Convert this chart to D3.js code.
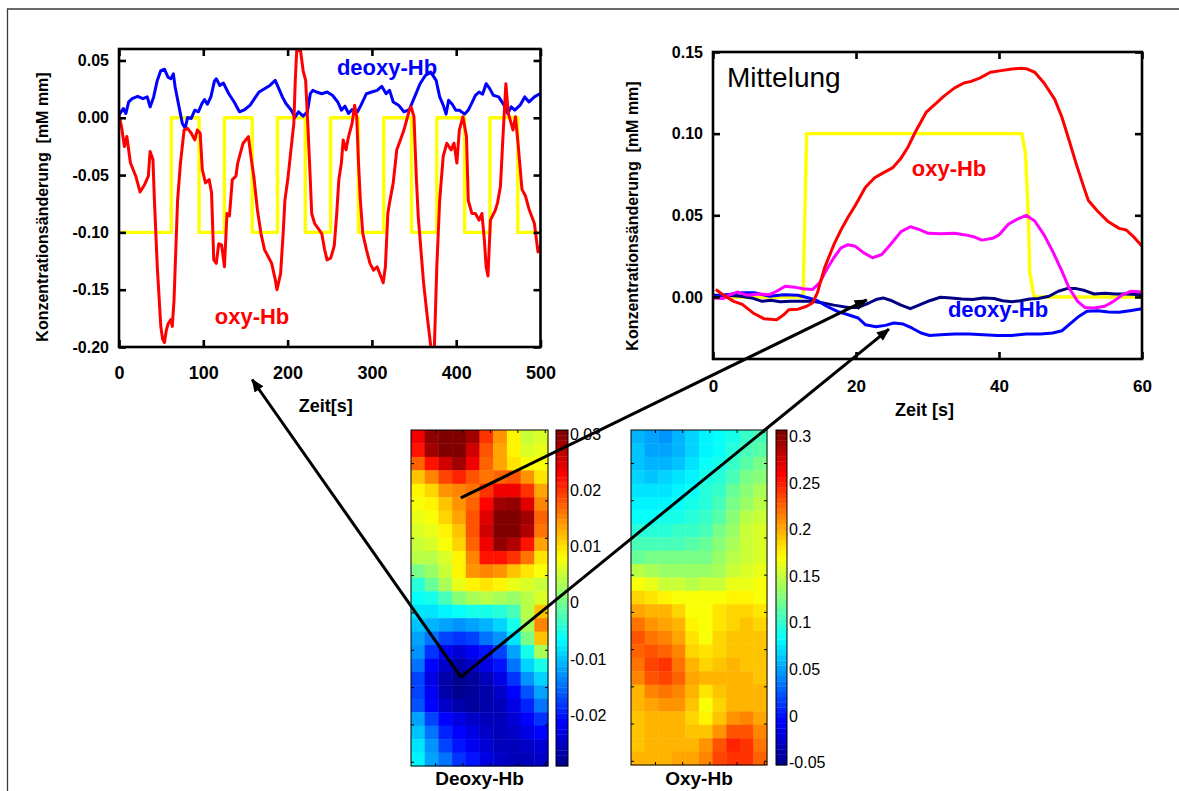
<!DOCTYPE html>
<html>
<head>
<meta charset="utf-8">
<script src="https://cdn.jsdelivr.net/npm/d3@7"></script>
<style>
  body { margin: 0; background: #fff; }
  text { font-family: "Liberation Sans", Arial, Helvetica, sans-serif; }
</style>
</head>
<body>
<svg id="fig" width="1179" height="791"></svg>
<script>
// ---------- Block design run (0-500 s), concentration change [mM mm] ----------
const stimulusA = [[0,-0.1],[62,-0.1],[62,0],[95,0],[95,-0.1],[125,-0.1],[125,0],[158,0],[158,-0.1],
  [188,-0.1],[188,0],[221,0],[221,-0.1],[251,-0.1],[251,0],[284,0],[284,-0.1],[314,-0.1],[314,0],
  [347,0],[347,-0.1],[377,-0.1],[377,0],[410,0],[410,-0.1],[440,-0.1],[440,0],[473,0],[473,-0.1],[500,-0.1]];

const oxyA = [[0,0.0023],[3,-0.0078],[6.4,-0.0251],[9.3,-0.0164],[13.6,-0.0395],[19.9,-0.051],[25,-0.0648],
  [30.5,-0.0582],[34.8,-0.051],[36.9,-0.0294],[40.3,-0.0366],[42,-0.072],[45.4,-0.13],[49.6,-0.182],[51.7,-0.193],
  [53.9,-0.196],[56,-0.186],[58.1,-0.18],[61.5,-0.176],[63.2,-0.182],[65.3,-0.159],[67.4,-0.115],[69.5,-0.072],
  [72.9,-0.0395],[77.2,-0.0107],[81.4,-0.0092],[85.7,-0.0135],[89.9,-0.0193],[92.9,-0.0107],[96.3,-0.0135],
  [98.8,-0.0452],[102.6,-0.0568],[106.9,-0.0539],[109.8,-0.0654],[112.4,-0.124],[115.4,-0.127],[118.3,-0.11],
  [121.7,-0.111],[125.1,-0.13],[128.1,-0.0835],[131,-0.0856],[134.4,-0.0539],[138.7,-0.051],[140.8,-0.0395],
  [147.2,-0.0222],[153.5,-0.0164],[156.5,-0.0337],[159.9,-0.051],[164.1,-0.0798],[168.4,-0.101],[172.6,-0.115],
  [181.1,-0.127],[185.3,-0.141],[187.4,-0.15],[191.7,-0.136],[194.7,-0.101],[196.8,-0.072],[200.2,-0.0539],
  [204.4,-0.0251],[207.4,-0.0049],[209.1,0.0326],[210.8,0.0585],[215.1,0.06],[218.4,0.0412],[221.4,0.0326],
  [224.3,-0.0107],[226.9,-0.0539],[228.6,-0.0835],[232,-0.0922],[236.2,-0.0965],[240.5,-0.101],[243.9,-0.115],
  [246.8,-0.124],[251.1,-0.1225],[255.3,-0.112],[258.3,-0.0835],[260.8,-0.0539],[263.8,-0.0395],[265.9,-0.0193],
  [269.3,-0.028],[272.3,-0.0164],[276.5,-0.0049],[279.5,0.011],[282,0.0009],[284.1,-0.0395],[286.3,-0.072],
  [289.2,-0.101],[293.5,-0.115],[297.7,-0.127],[302,-0.133],[306.2,-0.13],[310.4,-0.138],[313.4,-0.144],
  [316,-0.13],[318.9,-0.0835],[321,-0.074],[325.3,-0.0568],[329.5,-0.028],[333.8,-0.0193],[338,-0.0107],
  [344.4,0.0066],[346.5,0.0095],[349.9,0.0009],[352.8,-0.0539],[355,-0.0864],[361.3,-0.144],[365.6,-0.173],
  [369.8,-0.199],[374,-0.203],[377,-0.13],[380.4,-0.072],[384.6,-0.0337],[388.9,-0.0222],[394,-0.028],
  [397.4,-0.0222],[400.8,-0.0395],[403.7,-0.0107],[408,0.0009],[412.2,-0.0164],[414.3,-0.072],[418.6,-0.0835],
  [422.8,-0.0835],[427.1,-0.0893],[430.5,-0.0835],[433.4,-0.1066],[435.5,-0.13],[437.7,-0.138],[440.6,-0.0893],
  [446.2,-0.081],[449.1,-0.074],[452.5,-0.0597],[455.9,-0.0107],[458.9,0.0297],[461.8,0.0037],[465.2,-0.0049],
  [467.4,-0.0107],[470.3,0.0009],[473.7,-0.0251],[478,-0.0625],[482.2,-0.0683],[486.4,-0.0798],[492.8,-0.0922],
  [497,-0.117],[500,-0.112]];

const deoxyA = [[0,0.0023],[5.1,0.0081],[8.1,0.0037],[11.5,0.0138],[15.7,0.0167],[22.1,0.0187],[28.4,0.0167],
  [33.5,0.0182],[36.9,0.0095],[41.1,0.0182],[45.4,0.0326],[49.6,0.0412],[53.9,0.0424],[58.1,0.0354],[61.5,0.034],
  [64.5,0.0383],[66.6,0.0268],[70.8,0.011],[75.1,-0.0049],[78.5,-0.0092],[81.4,0.0003],[85.7,-0.0006],
  [89.9,0.0066],[94.1,0.0052],[98.4,0.0124],[101.4,0.0159],[104.8,0.0118],[109,0.0182],[113.2,0.032],
  [115.4,0.034],[119.6,0.0282],[123.8,0.0303],[130.2,0.021],[136.6,0.0138],[142.9,0.0052],[149.3,0.0072],
  [155.6,0.011],[160.7,0.0167],[166.2,0.0225],[172.6,0.0254],[179,0.0282],[185.3,0.0326],[189.6,0.0254],
  [193.8,0.0182],[198,0.0124],[204.4,0.0066],[208.7,0.0003],[212.9,0.0052],[218.4,0.0014],[223.5,0.0052],
  [226.9,0.021],[229.9,0.0239],[234.1,0.0225],[240.5,0.021],[246.8,0.0225],[253.2,0.0196],[259.5,0.0138],
  [263.8,0.0066],[268,0.0101],[272.3,0.0037],[276.5,0.0072],[282.9,0.0052],[287.1,0.011],[293.5,0.021],
  [299.8,0.0225],[306.2,0.0239],[311.7,0.0274],[316.8,0.021],[321,0.0239],[325.3,0.0138],[331.6,0.011],
  [338,0.0052],[344.4,0.0072],[350.7,0.0182],[357.1,0.0297],[363.4,0.0369],[369.8,0.0398],[376.2,0.0326],
  [380.4,0.0182],[384.6,0.011],[388,0.0032],[391,0.0153],[395.3,0.0118],[399.5,0.0066],[403.7,0.0066],
  [410.1,0.0032],[414.3,0.0066],[418.6,0.013],[422.8,0.0196],[427.1,0.0225],[431.3,0.0205],[435.5,0.0297],
  [439.8,0.0254],[444,0.0196],[450.4,0.0182],[456.7,0.011],[461,0.0037],[465.2,0.0095],[469.5,0.0066],
  [475.8,0.011],[481.3,0.0182],[486.4,0.0138],[492.8,0.0182],[499.2,0.021],[500,0.0205]];

const timeTicksA = [0, 100, 200, 300, 400, 500];
const timeLabelsA = ["0", "100", "200", "300", "400", "500"];
const concTicksA = [0.05, 0, -0.05, -0.1, -0.15, -0.2];
const concLabelsA = ["0.05", "0.00", "-0.05", "-0.10", "-0.15", "-0.20"];

// ---------- Block average (Mittelung, 0-60 s) ----------
const stimulusB = [[0,0],[12.6,0],[13.1,0.1],[43.2,0.1],[43.7,0.088],[44.1,0.05],[44.3,0.015],[44.9,0],[60,0]];

const oxyB = [[0.4,0.0045],[1.4,0.0014],[2.9,-0.0027],[4.1,-0.0045],[5.6,-0.0098],[7.1,-0.0133],[8.9,-0.0139],
  [9.9,-0.0109],[10.6,-0.0078],[11.9,-0.0075],[13.1,-0.0057],[13.9,-0.0037],[14.6,0.0025],[15.6,0.0178],
  [16.9,0.032],[17.9,0.041],[18.9,0.049],[19.9,0.056],[21.3,0.067],[22.6,0.073],[23.8,0.076],[25.1,0.079],
  [26.3,0.085],[27.3,0.092],[28.3,0.101],[29.8,0.113],[30.8,0.117],[32.3,0.123],[33.8,0.128],[35.1,0.131],
  [36.1,0.132],[37.3,0.134],[38.8,0.1376],[40.3,0.1386],[41.8,0.1396],[43,0.14],[43.8,0.1398],[45,0.1376],
  [46.3,0.131],[47.8,0.121],[48.8,0.11],[49.8,0.096],[50.8,0.0815],[51.8,0.068],[52.5,0.059],[53.8,0.0525],
  [55.3,0.046],[56.8,0.042],[57.8,0.041],[58.8,0.037],[60,0.031]];

const totalB = [[0,-0.0006],[1.4,-0.001],[2.4,0.0014],[3.4,0.003],[4.9,0.001],[6.4,0.0018],[7.9,0.0014],
  [8.9,0.0035],[10.1,0.0066],[11.4,0.006],[12.6,0.005],[13.9,0.0045],[14.9,0.0086],[15.9,0.0168],[16.9,0.024],
  [17.9,0.03],[18.9,0.032],[19.9,0.031],[21.1,0.027],[22.3,0.024],[23.6,0.026],[24.8,0.032],[26.3,0.04],
  [27.6,0.043],[28.8,0.0414],[30.1,0.039],[31.8,0.0387],[33.8,0.039],[35.3,0.038],[36.6,0.0367],[37.6,0.0348],
  [39.1,0.0359],[40,0.038],[41.3,0.0445],[42.5,0.0475],[43.8,0.05],[45,0.0465],[46.3,0.038],[47.5,0.028],
  [48.8,0.0158],[49.8,0.0055],[51,-0.0027],[52,-0.0064],[53.3,-0.0068],[54.8,-0.0057],[56,-0.0027],
  [57.3,0.0014],[58.5,0.0035],[60,0.003]];

const deoxyActiveB = [[0,0.001],[1.9,0.001],[3.9,0.0004],[5.4,-0.0006],[6.9,-0.0027],[8.1,-0.002],[9.4,-0.003],
  [10.9,-0.0027],[12.4,-0.0027],[13.9,-0.0027],[15.4,-0.0037],[16.9,-0.005],[18.9,-0.0064],[20.3,-0.0064],
  [21.8,-0.0037],[22.8,-0.0016],[23.8,-0.0006],[24.8,-0.002],[26.3,-0.005],[27.6,-0.0072],[28.8,-0.005],
  [30.3,-0.0023],[31.8,-0.0002],[33.3,-0.0006],[34.8,-0.0012],[36.3,-0.0016],[37.8,-0.0006],[39.3,-0.001],
  [40.5,-0.0023],[41.8,-0.003],[43,-0.0023],[44.3,-0.0012],[45.5,-0.001],[47,0.0004],[48.3,0.0035],
  [49.5,0.0051],[50.8,0.0051],[52,0.0039],[53.3,0.0018],[54.8,0.0023],[56.3,0.0018],[57.8,0.0018],[60,0.0014]];

const deoxyB = [[0,0.0004],[1.9,0.0014],[3.9,0.0025],[5.9,0.0025],[7.9,0.0004],[9.9,0.0014],[11.9,0.001],
  [13.4,-0.0006],[14.6,-0.0023],[15.9,-0.0057],[17.4,-0.0088],[18.9,-0.0109],[20.3,-0.0129],[21.3,-0.017],
  [22.8,-0.0182],[24.1,-0.0174],[25.3,-0.016],[26.6,-0.0166],[27.8,-0.019],[29.1,-0.0221],[30.3,-0.0236],
  [31.8,-0.0232],[33.8,-0.0227],[35.8,-0.0227],[37.8,-0.0232],[39.8,-0.0236],[41.8,-0.0236],[43.8,-0.0227],
  [45.8,-0.0227],[47.5,-0.0221],[48.8,-0.0207],[49.8,-0.017],[51,-0.0125],[52.3,-0.0088],[53.8,-0.0084],
  [55.3,-0.0092],[56.8,-0.0094],[58.3,-0.0084],[60,-0.0072]];

const timeTicksB = [0, 20, 40, 60];
const timeLabelsB = ["0", "20", "40", "60"];
const concTicksB = [0.15, 0.1, 0.05, 0];
const concLabelsB = ["0.15", "0.10", "0.05", "0.00"];

// ---------- Topographic maps, values in 10^-3 mM mm (rows top to bottom) ----------
const deoxyMap = [
  [24, 29, 30, 30, 28, 20, 14, 9, 5, 6],
  [22, 28, 30, 30, 26, 18, 13, 9, 6, 7],
  [17, 22, 26, 28, 24, 17, 13, 10, 8, 8],
  [12, 15, 19, 21, 18, 16, 17, 18, 14, 10],
  [9, 11, 14, 15, 16, 20, 24, 24, 20, 13],
  [8, 9, 12, 14, 17, 23, 28, 29, 25, 15],
  [7, 8, 11, 13, 18, 25, 30, 30, 28, 17],
  [6, 7, 9, 12, 18, 26, 30, 30, 27, 16],
  [5, 6, 8, 11, 17, 24, 29, 27, 22, 13],
  [4, 4, 6, 9, 15, 22, 22, 20, 16, 10],
  [0, 2, 5, 9, 14, 15, 14, 12, 10, 8],
  [-4, -1, 3, 7, 9, 10, 9, 7, 6, 5],
  [-6, -5, -2, 1, 3, 4, 3, 2, 4, 6],
  [-8, -8, -7, -6, -5, -5, -4, -2, 4, 12],
  [-10, -11, -12, -13, -12, -11, -9, -5, 3, 15],
  [-12, -15, -17, -18, -17, -15, -13, -8, 0, 12],
  [-13, -18, -22, -24, -22, -20, -17, -12, -5, 3],
  [-15, -21, -25, -27, -25, -23, -20, -15, -9, -5],
  [-17, -23, -27, -29, -28, -26, -23, -18, -13, -9],
  [-17, -22, -27, -29, -28, -27, -25, -21, -16, -12],
  [-16, -21, -25, -27, -28, -27, -26, -23, -19, -15],
  [-12, -17, -21, -23, -25, -26, -26, -24, -21, -18],
  [-10, -15, -19, -21, -23, -25, -26, -25, -23, -21],
  [-8, -13, -17, -20, -22, -24, -26, -26, -25, -24],
  [-7, -12, -15, -18, -20, -23, -25, -26, -26, -25]
];
const deoxyRange = [-29, 30.7];
const deoxyBarTicks = [30, 20, 10, 0, -10, -20];
const deoxyBarLabels = ["0.03", "0.02", "0.01", "0", "-0.01", "-0.02"];

const oxyMap = [
  [58, 52, 48, 55, 68, 78, 84, 92, 102, 110],
  [60, 54, 50, 58, 70, 80, 86, 95, 106, 115],
  [62, 58, 56, 64, 74, 84, 92, 102, 114, 124],
  [66, 64, 66, 72, 80, 90, 98, 110, 122, 132],
  [72, 72, 74, 78, 84, 94, 104, 118, 130, 140],
  [78, 78, 80, 84, 90, 98, 110, 125, 138, 148],
  [85, 86, 88, 92, 96, 104, 116, 132, 145, 152],
  [95, 96, 97, 100, 104, 110, 122, 138, 150, 156],
  [105, 106, 108, 110, 112, 118, 128, 142, 152, 158],
  [120, 122, 122, 122, 122, 126, 135, 146, 155, 160],
  [145, 142, 138, 135, 133, 135, 142, 152, 160, 165],
  [168, 162, 155, 150, 148, 150, 155, 162, 166, 168],
  [188, 182, 176, 170, 168, 168, 172, 176, 175, 172],
  [205, 200, 195, 188, 172, 170, 180, 185, 185, 182],
  [222, 210, 202, 196, 175, 168, 182, 188, 190, 188],
  [232, 222, 212, 205, 178, 170, 184, 190, 192, 190],
  [228, 232, 228, 212, 188, 178, 188, 192, 192, 190],
  [220, 236, 240, 222, 198, 188, 192, 195, 194, 192],
  [212, 232, 238, 225, 205, 195, 196, 198, 196, 194],
  [200, 215, 222, 215, 200, 180, 190, 198, 198, 196],
  [195, 205, 210, 208, 190, 172, 185, 198, 200, 198],
  [192, 198, 200, 200, 185, 175, 192, 210, 212, 205],
  [190, 195, 196, 196, 190, 190, 210, 232, 230, 215],
  [192, 196, 198, 198, 200, 210, 232, 248, 242, 222],
  [198, 200, 200, 202, 205, 215, 235, 245, 240, 225]
];
const oxyRange = [-52.5, 307];
const oxyBarTicks = [300, 250, 200, 150, 100, 50, 0, -50];
const oxyBarLabels = ["0.3", "0.25", "0.2", "0.15", "0.1", "0.05", "0", "-0.05"];

// ---------- drawing ----------
const svg = d3.select("#fig");
const defs = svg.append("defs");

// outer figure border (top and left edges)
svg.append("path").attr("d", "M7.5,791V9H1179").attr("fill", "none")
  .attr("stroke", "#3a3a3a").attr("stroke-width", 1.3);

const jet = d3.scaleLinear()
  .domain([0, 1/8, 3/8, 5/8, 7/8, 1])
  .range(["#00008f", "#0000ff", "#00ffff", "#ffff00", "#ff0000", "#800000"])
  .interpolate(d3.interpolateRgb);
const jetLevel = n => Math.max(0, Math.min(63, Math.floor(n * 64))) / 63;

function linePanel(o) {
  const g = svg.append("g");
  const [x0, x1] = o.x.range();
  const [yb, yt] = o.y.range();
  defs.append("clipPath").attr("id", o.id).append("rect")
    .attr("x", x0).attr("y", yt).attr("width", x1 - x0).attr("height", yb - yt);
  const line = d3.line().x(d => o.x(d[0])).y(d => o.y(d[1]));
  const plot = g.append("g").attr("clip-path", `url(#${o.id})`);
  o.series.forEach(s => {
    plot.append("path").datum(s.data).attr("d", line).attr("fill", "none")
      .attr("stroke", s.color).attr("stroke-width", s.width || 3)
      .attr("stroke-linejoin", "round");
  });

  const styleAxis = sel => {
    sel.select(".domain").remove();
    sel.selectAll("line").attr("stroke", "#000").attr("stroke-width", 2.6);
    sel.attr("font-family", "'Liberation Sans', Arial, sans-serif").attr("font-weight", "bold");
  };
  g.append("g").attr("transform", `translate(0,${yb})`)
    .call(d3.axisBottom(o.x).tickValues(o.xTicks).tickFormat((d, i) => o.xLabels[i])
      .tickSize(-7).tickPadding(o.xPad))
    .call(styleAxis).attr("font-size", o.xFont);
  g.append("g").attr("transform", `translate(0,${yt})`)
    .call(d3.axisTop(o.x).tickValues(o.xTicks).tickFormat("").tickSize(-7)).call(styleAxis);
  g.append("g").attr("transform", `translate(${x0},0)`)
    .call(d3.axisLeft(o.y).tickValues(o.yTicks).tickFormat((d, i) => o.yLabels[i])
      .tickSize(-7).tickPadding(10))
    .call(styleAxis).attr("font-size", 16);
  g.append("g").attr("transform", `translate(${x1},0)`)
    .call(d3.axisRight(o.y).tickValues(o.yTicks).tickFormat("").tickSize(-7)).call(styleAxis);
  g.append("rect").attr("x", x0).attr("y", yt).attr("width", x1 - x0).attr("height", yb - yt)
    .attr("fill", "none").attr("stroke", "#000").attr("stroke-width", 2.6);

  g.append("text").attr("x", (x0 + x1) / 2 + o.xTitleShift).attr("y", o.xTitleY)
    .attr("text-anchor", "middle").attr("font-size", 18).attr("font-weight", "bold").text(o.xTitle);
  g.append("text").attr("transform", `translate(${o.yTitleX},${o.yTitleY}) rotate(-90)`)
    .attr("text-anchor", "middle").attr("font-size", 16).attr("font-weight", "bold")
    .style("white-space", "pre").text("Konzentrationsänderung  [mM mm]");
  return g;
}

const xA = d3.scaleLinear().domain([0, 500]).range([119, 540.5]);
const yA = d3.scaleLinear().domain([-0.2, 0.06]).range([347, 49]);
const xB = d3.scaleLinear().domain([0, 60]).range([713, 1142]);
const yB = d3.scaleLinear().domain([-0.038, 0.15]).range([359, 52]);

const panelA = linePanel({
  id: "clipA", x: xA, y: yA,
  series: [
    { data: stimulusA, color: "#ffff00", width: 3.4 },
    { data: deoxyA, color: "#0000ff" },
    { data: oxyA, color: "#ff0000" }
  ],
  xTicks: timeTicksA, xLabels: timeLabelsA, xFont: 18, xPad: 19,
  yTicks: concTicksA, yLabels: concLabelsA,
  xTitle: "Zeit[s]", xTitleShift: -4, xTitleY: 412,
  yTitleX: 48, yTitleY: 207
});
panelA.append("text").attr("x", 387).attr("y", 75).attr("text-anchor", "middle")
  .attr("font-size", 22).attr("font-weight", "bold").attr("fill", "#0000ff").text("deoxy-Hb");
panelA.append("text").attr("x", 252).attr("y", 324).attr("text-anchor", "middle")
  .attr("font-size", 22).attr("font-weight", "bold").attr("fill", "#ff0000").text("oxy-Hb");

const panelB = linePanel({
  id: "clipB", x: xB, y: yB,
  series: [
    { data: stimulusB, color: "#ffff00", width: 3.4 },
    { data: deoxyActiveB, color: "#000080" },
    { data: deoxyB, color: "#0000ff" },
    { data: totalB, color: "#ff00ff" },
    { data: oxyB, color: "#ff0000" }
  ],
  xTicks: timeTicksB, xLabels: timeLabelsB, xFont: 17, xPad: 21,
  yTicks: concTicksB, yLabels: concLabelsB,
  xTitle: "Zeit [s]", xTitleShift: -3, xTitleY: 416,
  yTitleX: 638, yTitleY: 216
});
panelB.append("text").attr("x", 727).attr("y", 87).attr("font-size", 28).text("Mittelung");
panelB.append("text").attr("x", 949).attr("y", 176).attr("text-anchor", "middle")
  .attr("font-size", 22).attr("font-weight", "bold").attr("fill", "#ff0000").text("oxy-Hb");
panelB.append("text").attr("x", 998).attr("y", 317).attr("text-anchor", "middle")
  .attr("font-size", 22).attr("font-weight", "bold").attr("fill", "#0000ff").text("deoxy-Hb");

function mapPanel(o) {
  const g = svg.append("g");
  const cols = d3.range(o.grid[0].length), rows = d3.range(o.grid.length);
  const bx = d3.scaleBand().domain(cols).range([o.left, o.right]);
  const by = d3.scaleBand().domain(rows).range([o.top, o.bottom]);
  const norm = d3.scaleLinear().domain(o.range).range([0, 1]).clamp(true);
  const cells = o.grid.flatMap((row, r) => row.map((v, c) => ({ r, c, v })));
  g.selectAll("rect.cell").data(cells).join("rect").attr("class", "cell")
    .attr("x", d => bx(d.c)).attr("y", d => by(d.r))
    .attr("width", bx.bandwidth() + 0.4).attr("height", by.bandwidth() + 0.4)
    .attr("fill", d => jet(jetLevel(norm(d.v))));

  // optode-grid axes with inward ticks on every side
  const mx = d3.scaleLinear().domain([0.1, 5.1]).range([o.left, o.right]);
  const my = d3.scaleLinear().domain([0.1, 9.1]).range([o.top, o.bottom]);
  const tk = g.append("g").attr("stroke", "#000").attr("stroke-width", 1);
  [1, 2, 3, 4, 5].forEach(v => {
    tk.append("line").attr("x1", mx(v)).attr("x2", mx(v)).attr("y1", o.bottom).attr("y2", o.bottom - 3);
    tk.append("line").attr("x1", mx(v)).attr("x2", mx(v)).attr("y1", o.top).attr("y2", o.top + 3);
  });
  d3.range(1, 10).forEach(v => {
    tk.append("line").attr("y1", my(v)).attr("y2", my(v)).attr("x1", o.left).attr("x2", o.left + 3);
    tk.append("line").attr("y1", my(v)).attr("y2", my(v)).attr("x1", o.right).attr("x2", o.right - 3);
  });
  g.append("rect").attr("x", o.left).attr("y", o.top).attr("width", o.right - o.left)
    .attr("height", o.bottom - o.top).attr("fill", "none").attr("stroke", "#000").attr("stroke-width", 1);

  // colour bar, 64 levels
  const cy = d3.scaleLinear().domain(o.range).range([o.bottom, o.top]);
  const step = (o.range[1] - o.range[0]) / 64;
  g.selectAll("rect.lvl").data(d3.range(64)).join("rect").attr("class", "lvl")
    .attr("x", o.barLeft).attr("width", o.barRight - o.barLeft)
    .attr("y", k => cy(o.range[0] + (k + 1) * step)).attr("height", k => cy(o.range[0] + k * step) - cy(o.range[0] + (k + 1) * step) + 0.3)
    .attr("fill", k => jet(k / 63));
  g.append("rect").attr("x", o.barLeft).attr("y", o.top).attr("width", o.barRight - o.barLeft)
    .attr("height", o.bottom - o.top).attr("fill", "none").attr("stroke", "#000").attr("stroke-width", 1);
  o.barTicks.forEach((v, i) => {
    tk.append("line").attr("x1", o.barRight).attr("x2", o.barRight - 3).attr("y1", cy(v)).attr("y2", cy(v));
    tk.append("line").attr("x1", o.barLeft).attr("x2", o.barLeft + 3).attr("y1", cy(v)).attr("y2", cy(v));
    g.append("text").attr("x", o.barRight + 2).attr("y", cy(v)).attr("dy", "0.35em")
      .attr("font-size", 16).text(o.barLabels[i]);
  });
  g.append("text").attr("x", (o.left + o.right) / 2).attr("y", 785).attr("text-anchor", "middle")
    .attr("font-size", 19).attr("font-weight", "bold").text(o.title);
  return { mx, my };
}

const deoxyPos = mapPanel({
  grid: deoxyMap, range: deoxyRange, left: 411, right: 548, top: 430, bottom: 766,
  barLeft: 556, barRight: 568, barTicks: deoxyBarTicks, barLabels: deoxyBarLabels, title: "Deoxy-Hb"
});
mapPanel({
  grid: oxyMap, range: oxyRange, left: 631, right: 767, top: 430, bottom: 765,
  barLeft: 776, barRight: 787, barTicks: oxyBarTicks, barLabels: oxyBarLabels, title: "Oxy-Hb"
});

// arrows from map positions to the corresponding time courses
defs.append("marker").attr("id", "head").attr("viewBox", "0 0 12 10")
  .attr("refX", 11).attr("refY", 5).attr("markerWidth", 4.6).attr("markerHeight", 3.6)
  .attr("markerUnits", "strokeWidth").attr("orient", "auto")
  .append("path").attr("d", "M0,0L12,5L0,10z").attr("fill", "#000");

const arrows = [
  { from: [1.92, 6.72], to: [xA(158), yA(-0.2285)] },
  { from: [1.92, 6.72], to: [xB(24.6), yB(-0.0197)] },
  { from: [1.92, 1.92], to: [xB(21.5), yB(-0.0018)] }
];
svg.append("g").selectAll("line").data(arrows).join("line")
  .attr("x1", d => deoxyPos.mx(d.from[0])).attr("y1", d => deoxyPos.my(d.from[1]))
  .attr("x2", d => d.to[0]).attr("y2", d => d.to[1])
  .attr("stroke", "#000").attr("stroke-width", 3).attr("marker-end", "url(#head)");
</script>
</body>
</html>
